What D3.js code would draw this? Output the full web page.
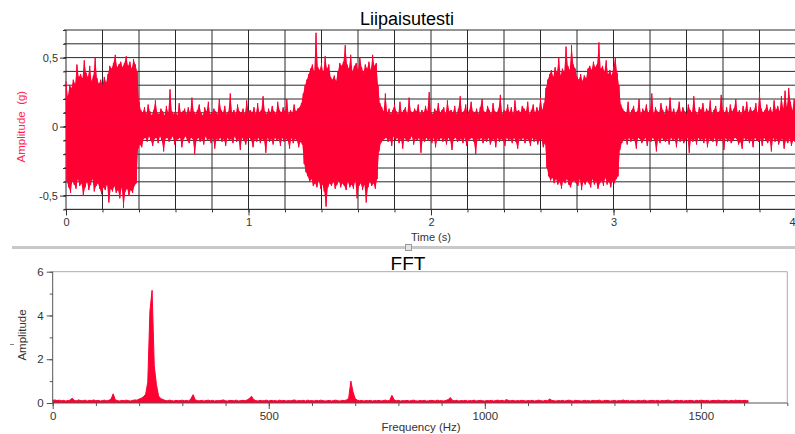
<!DOCTYPE html>
<html>
<head>
<meta charset="utf-8">
<script src="https://cdn.jsdelivr.net/npm/d3@7"></script>
<style>
  html, body { margin: 0; padding: 0; background: #fff; }
  svg { display: block; }
</style>
</head>
<body>
<div id="chart"></div>
<script>
// ---- Acceleration record: one sample every SAMPLE_DT seconds, values in 0.01 g ----
const SAMPLE_DT = 0.005;
const accelCg = [
  // 0.000 – 0.390 s : first tap
  33,-40,22,-44,30,-48,28,-39,34,-42,
  31,-45,45,-38,36,-43,38,-41,35,-50,
  48,-44,39,-40,36,-46,44,-42,33,-38,
  37,-47,50,-43,35,-41,31,-45,34,-49,
  30,-44,36,-46,32,-42,38,-55,44,-45,
  42,-47,46,-43,52,-48,43,-46,45,-52,
  47,-44,43,-59,46,-47,51,-45,44,-50,
  47,-46,42,-48,49,-43,45,-41,40,
  // 0.395 – 1.295 s : background
  -16,
  18,-13,12,-15,10,-9,14,-8,9,-11,
  16,-7,11,-10,8,-14,12,-9,19,-8,
  10,-12,9,-7,13,-10,11,-18,8,-9,
  15,-8,10,-11,27,-9,11,-7,9,-13,
  12,-10,8,-9,17,-8,10,-15,11,-9,
  13,-7,9,-10,14,-12,10,-8,21,-9,
  11,-20,9,-10,12,-8,16,-11,10,-9,
  8,-13,14,-7,11,-10,18,-9,9,-12,
  10,-8,13,-16,11,-9,9,-10,20,-8,
  12,-11,10,-9,15,-14,9,-8,11,-10,
  24,-9,10,-12,12,-7,9,-11,16,-9,
  11,-17,10,-8,13,-10,9,-13,19,-9,
  11,-8,12,-10,10,-15,14,-9,9,-11,
  17,-8,10,-12,12,-9,22,-10,11,-19,
  9,-8,13,-11,10,-9,15,-13,11,-8,
  9,-10,18,-9,12,-14,10,-8,14,-11,
  11,-9,20,-10,9,-16,12,-8,10,-12,
  16,-9,11,-10,13,-15,14,-11,17,-13,
  // 1.300 – 1.710 s : second tap
  24,-27,30,-33,34,-36,38,-40,42,-38,
  45,-43,40,-41,68,-44,43,-39,41,-45,
  46,-42,39,-47,51,-58,42,-44,45,-41,
  36,-43,34,-40,37,-45,33,-42,40,-39,
  46,-44,44,-41,47,-43,59,-46,45,-40,
  42,-44,52,-42,40,-45,44,-39,46,-52,
  41,-43,50,-41,43,-46,39,-42,45,-55,
  42,-44,47,-40,41,-43,52,-41,44,-45,
  46,-38,30,
  // 1.715 – 2.625 s : background
  -18,17,-12,14,-10,11,-9,
  24,-8,10,-11,13,-9,9,-14,12,-7,
  16,-10,11,-8,9,-12,18,-9,10,-16,
  12,-8,14,-10,9,-11,21,-9,11,-7,
  10,-13,13,-9,11,-10,16,-8,9,-19,
  12,-9,10,-11,15,-8,11,-10,25,-9,
  10,-12,9,-8,13,-15,11,-9,17,-10,
  10,-8,12,-11,14,-9,9,-13,19,-8,
  11,-10,12,-17,10,-9,15,-8,9,-11,
  13,-10,22,-9,10,-12,11,-8,16,-14,
  9,-10,12,-9,18,-8,11,-11,10,-20,
  13,-9,9,-10,14,-8,20,-12,11,-9,
  10,-11,15,-8,12,-13,9,-10,17,-9,
  11,-15,10,-8,13,-11,23,-9,9,-10,
  12,-14,11,-8,16,-10,10,-9,14,-12,
  9,-8,19,-11,11,-16,12,-9,10,-10,
  15,-8,13,-12,11,-9,18,-10,9,-14,
  12,-8,16,-11,10,-9,14,-13,11,-10,
  21,-9,12,-15,17,-12,
  // 2.630 – 3.030 s : third tap
  28,-30,34,-36,
  38,-39,41,-37,36,-41,43,-38,39,-42,
  50,-40,37,-45,42,-39,40,-41,58,-38,
  44,-42,41,-44,59,-40,45,-39,42,-41,
  36,-43,34,-38,38,-46,33,-40,37,-42,
  35,-39,42,-41,44,-44,41,-38,47,-42,
  43,-40,45,-45,61,-41,42,-39,44,-43,
  40,-37,48,-42,38,-40,41,-44,37,-39,
  43,-41,50,-38,39,-36,30,
  // 3.035 – 4.000 s : background
  -17,16,-12,
  13,-10,11,-9,10,-13,18,-8,9,-11,
  12,-9,15,-10,10,-16,11,-8,20,-9,
  9,-12,13,-10,11,-8,16,-14,10,-9,
  12,-11,24,-8,9,-10,14,-18,11,-9,
  10,-12,17,-8,12,-10,9,-11,15,-9,
  11,-13,21,-8,10,-10,13,-9,9,-15,
  12,-8,18,-11,10,-9,14,-12,11,-10,
  9,-8,16,-19,12,-9,10,-11,22,-9,
  11,-13,9,-8,14,-10,12,-9,17,-12,
  10,-8,13,-15,11,-9,19,-10,9,-11,
  12,-8,15,-14,10,-9,11,-10,23,-9,
  12,-17,10,-8,14,-11,9,-9,16,-12,
  11,-10,13,-8,20,-9,10,-13,12,-11,
  9,-16,15,-8,11,-10,18,-9,10,-12,
  14,-9,11,-15,12,-8,17,-10,9,-11,
  25,-9,13,-14,10,-8,12,-10,16,-12,
  11,-9,14,-18,10,-8,19,-11,12,-9,
  15,-13,11,-10,22,-9,13,-16,26,-10,
  14,-12,28,-9,18,-14,12,-10,20,-11,
  15
];
const timeTicks = [0, 1, 2, 3, 4];
const accelTicks = [-0.5, 0, 0.5];

// ---- Spectrum: amplitude per FFT_BIN_HZ bin, starting at 0 Hz ----
const FFT_BIN_HZ = 5;
const fftAmp = [
  0.12,0.14,0.11,0.13,0.10,0.12,0.09,0.11,0.13,0.22,
  0.12,0.10,0.14,0.11,0.10,0.13,0.09,0.12,0.11,0.14,
  0.10,0.12,0.09,0.11,0.13,0.10,0.12,0.18,0.42,0.14,
  0.11,0.09,0.12,0.10,0.13,0.11,0.09,0.12,0.14,0.13,
  0.18,0.22,0.28,0.40,0.95,4.20,5.15,1.70,0.85,0.32,
  0.20,0.16,0.12,0.10,0.13,0.11,0.09,0.12,0.10,0.11,
  0.13,0.10,0.12,0.09,0.20,0.38,0.14,0.11,0.10,0.12,
  0.09,0.11,0.13,0.10,0.12,0.09,0.11,0.10,0.12,0.14,
  0.10,0.09,0.12,0.11,0.10,0.13,0.09,0.11,0.12,0.10,
  0.14,0.20,0.31,0.16,0.11,0.09,0.12,0.10,0.11,0.13,
  0.09,0.12,0.10,0.11,0.09,0.13,0.10,0.12,0.09,0.11,
  0.10,0.12,0.14,0.09,0.11,0.10,0.12,0.09,0.13,0.10,
  0.11,0.09,0.12,0.10,0.13,0.11,0.09,0.10,0.12,0.09,
  0.11,0.13,0.10,0.09,0.12,0.11,0.14,0.22,1.00,0.50,
  0.20,0.13,0.10,0.12,0.09,0.11,0.10,0.12,0.09,0.11,
  0.10,0.12,0.09,0.11,0.13,0.10,0.12,0.35,0.15,0.10,
  0.12,0.09,0.11,0.10,0.12,0.09,0.11,0.13,0.10,0.09,
  0.11,0.10,0.12,0.09,0.10,0.12,0.11,0.09,0.13,0.10,
  0.11,0.09,0.12,0.15,0.25,0.13,0.10,0.12,0.09,0.11,
  0.10,0.12,0.09,0.11,0.10,0.13,0.09,0.11,0.12,0.10,
  0.09,0.11,0.10,0.12,0.09,0.11,0.13,0.10,0.12,0.09,
  0.16,0.11,0.10,0.12,0.09,0.11,0.10,0.12,0.11,0.09,
  0.11,0.10,0.12,0.09,0.11,0.13,0.10,0.09,0.12,0.10,
  0.18,0.12,0.10,0.09,0.11,0.10,0.12,0.09,0.11,0.13,
  0.10,0.09,0.12,0.11,0.10,0.09,0.12,0.10,0.11,0.09,
  0.12,0.10,0.11,0.13,0.09,0.10,0.12,0.11,0.09,0.10,
  0.12,0.09,0.11,0.10,0.14,0.10,0.12,0.09,0.11,0.10,
  0.09,0.12,0.10,0.11,0.13,0.09,0.10,0.12,0.11,0.10,
  0.12,0.09,0.11,0.10,0.12,0.13,0.10,0.09,0.11,0.12,
  0.10,0.12,0.09,0.11,0.10,0.12,0.11,0.09,0.12,0.10,
  0.13,0.11,0.10,0.12,0.09,0.11,0.12,0.10,0.13,0.11,
  0.10,0.12,0.11,0.09,0.12,0.10,0.13,0.11,0.12,0.10,
  0.12,0.11,0.10
];
const freqTicks = [0, 500, 1000, 1500];
const fftTicks = [0, 2, 4, 6];

// ---- Styling ----
const RED = "#ff0033";
const FONT = "'Liberation Sans', Arial, Helvetica, sans-serif";
const INK = "#333";

const locale = d3.formatLocale({ decimal: ",", thousands: "", grouping: [3], currency: ["", ""], minus: "-" });
const fmt = locale.format("~g");

const W = 795, H = 434;
const svg = d3.select("#chart").append("svg")
  .attr("width", W).attr("height", H)
  .style("font-family", FONT);

// =================== Time-domain panel ===================
const xT = d3.scaleLinear().domain([0, 4]).range([66, 796]);
const yT = d3.scaleLinear().domain([-0.6, 0.7]).range([209.4, 30]);

const gridT = svg.append("g").attr("stroke", "#2a2a2a").attr("stroke-width", 1);
gridT.selectAll("line.h").data(yT.ticks(13)).join("line")
  .attr("x1", 64).attr("x2", W + 2)
  .attr("y1", d => yT(d)).attr("y2", d => yT(d));
gridT.selectAll("line.v").data(xT.ticks(20)).join("line")
  .attr("x1", d => xT(d)).attr("x2", d => xT(d))
  .attr("y1", yT(0.7)).attr("y2", yT(-0.6));

// signal: solid body between the positive and negative swings, trace on top
const samples = accelCg.map((v, i) => ({ t: i * SAMPLE_DT, g: v / 100 }));
const swing = d3.area()
  .x(d => xT(d.t))
  .y0(yT(0))
  .y1(d => yT(d.g));
const sigG = svg.append("g");
sigG.append("path").datum(samples.filter(d => d.g >= 0)).attr("d", swing).attr("fill", RED);
sigG.append("path").datum(samples.filter(d => d.g <= 0)).attr("d", swing).attr("fill", RED);
sigG.append("path")
  .datum(samples)
  .attr("d", d3.line().x(d => xT(d.t)).y(d => yT(d.g)))
  .attr("fill", "none")
  .attr("stroke", RED)
  .attr("stroke-width", 1);

// x axis (time)
const axT = svg.append("g").attr("transform", `translate(0,${yT(-0.6)})`);
axT.append("g").call(d3.axisBottom(xT).ticks(20).tickSize(3).tickFormat(""));
axT.append("g").attr("class", "major")
  .call(d3.axisBottom(xT).tickValues(timeTicks).tickSize(6).tickPadding(3).tickFormat(fmt));
axT.selectAll(".domain").remove();
axT.append("line").attr("x1", xT(0)).attr("x2", W + 2).attr("stroke", INK);
axT.selectAll(".tick line").attr("stroke", INK);
axT.selectAll("text").attr("fill", INK).style("font-size", "11px").style("font-family", FONT);
// last label sits at the window edge; keep it inside
axT.selectAll(".major .tick text").filter(d => xT(d) > W - 6).attr("text-anchor", "end").attr("x", -1);

// y axis (amplitude)
const ayT = svg.append("g").attr("transform", `translate(${xT(0)},0)`);
ayT.append("g").call(d3.axisLeft(yT).ticks(13).tickSize(3).tickFormat(""));
ayT.append("g").call(d3.axisLeft(yT).tickValues(accelTicks).tickSize(6).tickPadding(2).tickFormat(fmt));
ayT.selectAll(".domain").remove();
ayT.selectAll(".tick line").attr("stroke", INK);
ayT.selectAll("text").attr("fill", INK).style("font-size", "11px").style("font-family", FONT);

svg.append("text")
  .attr("x", 407).attr("y", 25)
  .attr("text-anchor", "middle")
  .style("font-size", "18px").attr("fill", "#000")
  .text("Liipaisutesti");

svg.append("text")
  .attr("x", 431).attr("y", 241)
  .attr("text-anchor", "middle")
  .style("font-size", "11px").attr("fill", INK)
  .text("Time (s)");

svg.append("text")
  .attr("transform", `translate(25,${yT(0)}) rotate(-90)`)
  .attr("text-anchor", "middle")
  .style("font-size", "11.5px").attr("fill", "#ff2450")
  .style("white-space", "pre")
  .text("Amplitude  (g)");

// splitter between panels
svg.append("rect").attr("x", 12).attr("y", 246).attr("width", W - 12).attr("height", 3).attr("fill", "#c8c8c8");
svg.append("rect").attr("x", 405.5).attr("y", 244.5).attr("width", 6).attr("height", 6)
  .attr("fill", "#e4e4e4").attr("stroke", "#999");

// =================== Spectrum panel ===================
const xF = d3.scaleLinear().domain([0, 1700]).range([52.7, 787.3]);
const yF = d3.scaleLinear().domain([0, 6]).range([403, 271.7]);

// frame
svg.append("line").attr("x1", xF(0)).attr("x2", xF(1700)).attr("y1", yF(6)).attr("y2", yF(6)).attr("stroke", "#aaa");
svg.append("line").attr("x1", xF(1700)).attr("x2", xF(1700)).attr("y1", yF(6)).attr("y2", yF(0)).attr("stroke", "#aaa");

const fftArea = d3.area()
  .x((d, i) => xF(i * FFT_BIN_HZ))
  .y0(yF(0))
  .y1(d => yF(d));
const fftLine = d3.line()
  .x((d, i) => xF(i * FFT_BIN_HZ))
  .y(d => yF(d));
svg.append("path").datum(fftAmp).attr("d", fftArea).attr("fill", RED);
svg.append("path").datum(fftAmp).attr("d", fftLine).attr("fill", "none").attr("stroke", RED).attr("stroke-width", 1);

const axF = svg.append("g").attr("transform", `translate(0,${yF(0)})`);
axF.append("g").call(d3.axisBottom(xF).ticks(17).tickSize(3).tickFormat(""));
axF.append("g").call(d3.axisBottom(xF).tickValues(freqTicks).tickSize(6).tickPadding(3).tickFormat(fmt));
axF.selectAll(".domain").remove();
axF.append("line").attr("x1", xF(0)).attr("x2", xF(1700)).attr("stroke", "#555");
axF.selectAll(".tick line").attr("stroke", "#555");
axF.selectAll("text").attr("fill", INK).style("font-size", "11.5px").style("font-family", FONT);

const ayF = svg.append("g").attr("transform", `translate(${xF(0)},0)`);
ayF.append("g").call(d3.axisLeft(yF).ticks(6).tickSize(3).tickFormat(""));
ayF.append("g").call(d3.axisLeft(yF).tickValues(fftTicks).tickSize(6).tickPadding(3).tickFormat(fmt));
ayF.selectAll(".domain").remove();
ayF.append("line").attr("y1", yF(0)).attr("y2", yF(6)).attr("stroke", "#555");
ayF.selectAll(".tick line").attr("stroke", "#555");
ayF.selectAll("text").attr("fill", INK).style("font-size", "11.5px").style("font-family", FONT);

svg.append("text")
  .attr("x", 408).attr("y", 270)
  .attr("text-anchor", "middle")
  .style("font-size", "19px").attr("fill", "#000")
  .text("FFT");

svg.append("text")
  .attr("x", 421).attr("y", 430.5)
  .attr("text-anchor", "middle")
  .style("font-size", "11.5px").attr("fill", INK)
  .text("Frequency (Hz)");

svg.append("text")
  .attr("transform", `translate(26,335) rotate(-90)`)
  .attr("text-anchor", "middle")
  .style("font-size", "11.5px").attr("fill", INK)
  .text("Amplitude");

svg.append("line").attr("x1", 10).attr("x2", 14).attr("y1", 344.5).attr("y2", 344.5).attr("stroke", "#888");
</script>
</body>
</html>
